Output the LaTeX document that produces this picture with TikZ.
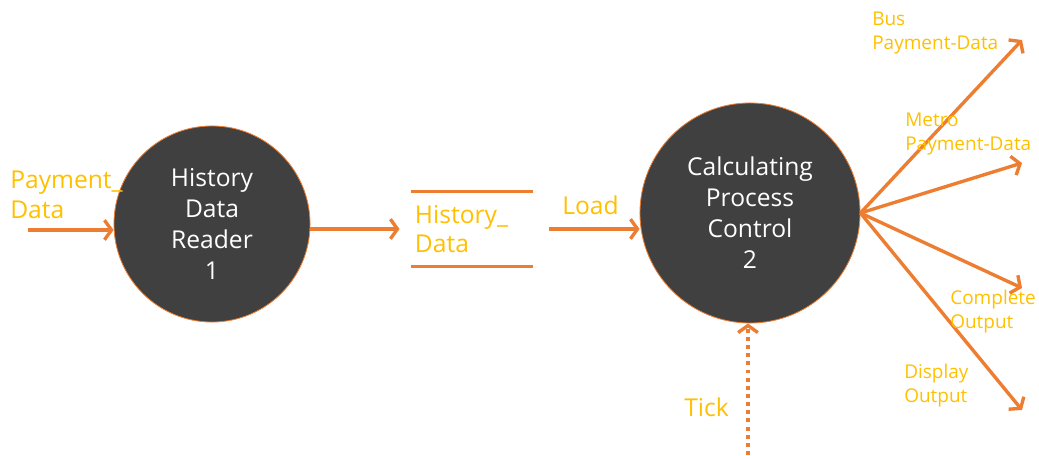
\documentclass[tikz,border=0pt]{standalone}
\usepackage{fontspec}
\setmainfont{Open Sans}
\usetikzlibrary{arrows.meta}
\definecolor{floworange}{HTML}{ED7D31}
\definecolor{labelyellow}{HTML}{FFC000}
\definecolor{procgray}{HTML}{404040}

\begin{document}
\begin{tikzpicture}[x=0.025cm, y=-0.025cm,
	process/.style={circle, fill=procgray, draw=floworange, line width=0.6pt, text=white, align=center, inner sep=0pt, font=\fontsize{17.5}{22}\selectfont},
	store/.style={minimum width=3.05cm, minimum height=1.85cm, inner xsep=0.1cm, text width=2.85cm, align=left, text=labelyellow, font=\fontsize{17.5}{21}\selectfont},
	flow/.style={floworange, line width=2.4pt, -{Straight Barb[length=5pt, width=14pt]}},
	tickflow/.style={flow, dash pattern=on 2.8pt off 3pt},
	biglabel/.style={text=labelyellow, anchor=west, align=left, inner sep=0pt, font=\fontsize{17.5}{21}\selectfont},
	smalllabel/.style={biglabel, font=\fontsize{13.5}{17}\selectfont}]
	\useasboundingbox (0,0) rectangle (1039,455);

	\node[process, minimum size=4.9cm] (reader) at (212,224) {History\\Data\\Reader\\1};
	\node[process, minimum size=5.5cm] (control) at (750,213) {Calculating\\Process\\Control\\2};
	\node[store] (history) at (472,229) {History\_\\Data};
	\draw[floworange, line width=2.4pt] (history.north west) -- (history.north east) (history.south west) -- (history.south east);

	\coordinate (paysrc) at (28,230);
	\coordinate (ticksrc) at (748,455);
	\coordinate (bus) at (1022,40);
	\coordinate (metro) at (1022,163);
	\coordinate (complete) at (1022,288);
	\coordinate (display) at (1022,410);

	\draw[flow] (paysrc) -- (paysrc -| reader.west);
	\draw[flow, shorten >=0.28cm] (reader.east |- history.west) -- (history.west);
	\draw[flow, shorten <=0.38cm] (history.east) -- (control.west |- history.east);
	\draw[tickflow] (ticksrc) -- (ticksrc |- control.south);
	\foreach \out in {bus, metro, complete, display}
		\draw[flow] (control.east) -- (\out);

	\node[biglabel] (payment) at (10,195) {Payment\_\\Data};
	\node[biglabel] (load) at (562,205) {Load};
	\node[biglabel] (tick) at (684,407) {Tick};
	\node[smalllabel] (buslbl) at (872,33) {Bus\\Payment-Data};
	\node[smalllabel] (metrolbl) at (905,134) {Metro\\Payment-Data};
	\node[smalllabel] (completelbl) at (950,312) {Complete\\Output};
	\node[smalllabel] (displaylbl) at (904,386) {Display\\Output};
\end{tikzpicture}
\end{document}
